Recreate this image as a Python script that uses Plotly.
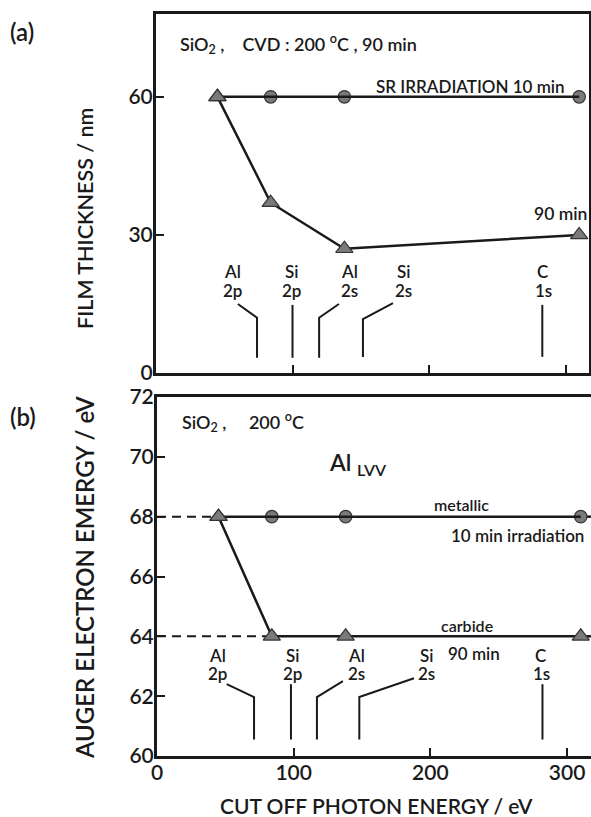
import plotly.graph_objects as go

W, H = 591, 817
OFF = 0          # body margin removed in the page (see write_html below)
FONT = "Lato"
INK = "#1a1a1a"
MARK = "#7a7a7a"

# ---------------- data ----------------
# (a) film thickness vs cut-off photon energy
a_sr10_x = [45, 84, 138, 310]
a_sr10_y = [60, 60, 60, 60]
a_sr90_x = [45, 84, 138, 310]
a_sr90_y = [60, 37, 27, 30]

# (b) Al LVV Auger electron energy
b_met_x = [45, 84, 138, 310]
b_met_y = [68, 68, 68, 68]
b_carb_x = [45, 84, 138, 310]
b_carb_y = [68, 64, 64, 64]
b_ext_x = [310, 330]          # lines continue past the last point
b_dash_met_x = [0, 45]
b_dash_carb_x = [0, 84]

# absorption edges
edge_elem = ["Al", "Si", "Al", "Si", "C"]
edge_level = ["2p", "2p", "2s", "2s", "1s"]
edge_label_x_a = [56, 99, 142, 181, 283.5]
edge_label_x_b = [44, 99, 146, 197, 281]
edge_path_a = [
    ([60, 74, 74], [15, 12, 3.3]),
    ([100, 100], [14.8, 3.3]),
    ([134, 119.5, 119.5], [15, 12, 3.3]),
    ([173.6, 151.6, 151.6], [15.2, 11.7, 3.5]),
    ([283, 283], [14.8, 3.5]),
]
edge_path_b = [
    ([51, 71, 71], [62.4, 61.97, 60.55]),
    ([98, 98], [62.4, 60.55]),
    ([136, 117, 117], [62.5, 61.97, 60.55]),
    ([188, 148, 148], [62.6, 61.97, 60.55]),
    ([282, 282], [62.4, 60.55]),
]

a_yticks = [0, 30, 60]
b_yticks = [60, 62, 64, 66, 68, 70, 72]
x_ticks = [0, 100, 200, 300]

# ---------------- helpers (page pixel -> paper) ----------------
def px(xp):
    return (xp - OFF) / W

def py(yp):
    return 1 - (yp - OFF) / H

# ---------------- figure ----------------
fig = go.Figure()

line_style = dict(color=INK, width=2.5)
circ = dict(symbol="circle", size=12.5, color=MARK, line=dict(color="#333", width=1.2))
tri = dict(symbol="triangle-up", size=15, color=MARK, line=dict(color="#333", width=1.2))

# panel (a)
fig.add_trace(go.Scatter(x=a_sr90_x, y=a_sr90_y, mode="lines+markers", line=line_style,
                         marker=tri, xaxis="x", yaxis="y", showlegend=False))
fig.add_trace(go.Scatter(x=a_sr10_x[1:], y=a_sr10_y[1:], mode="markers", marker=circ,
                         xaxis="x", yaxis="y", showlegend=False))
fig.add_trace(go.Scatter(x=a_sr10_x, y=a_sr10_y, mode="lines", line=line_style,
                         xaxis="x", yaxis="y", showlegend=False))
fig.add_trace(go.Scatter(x=a_sr90_x[:1], y=a_sr90_y[:1], mode="markers", marker=tri,
                         xaxis="x", yaxis="y", showlegend=False))

# panel (b)
dash_style = dict(color=INK, width=2, dash="9px,6px")
fig.add_trace(go.Scatter(x=b_dash_met_x, y=[b_met_y[0]] * 2, mode="lines", line=dash_style,
                         xaxis="x2", yaxis="y2", showlegend=False))
fig.add_trace(go.Scatter(x=b_dash_carb_x, y=[b_carb_y[1]] * 2, mode="lines", line=dash_style,
                         xaxis="x2", yaxis="y2", showlegend=False))
fig.add_trace(go.Scatter(x=b_ext_x, y=[b_met_y[-1]] * 2, mode="lines", line=line_style,
                         xaxis="x2", yaxis="y2", showlegend=False))
fig.add_trace(go.Scatter(x=b_ext_x, y=[b_carb_y[-1]] * 2, mode="lines", line=line_style,
                         xaxis="x2", yaxis="y2", showlegend=False))
fig.add_trace(go.Scatter(x=b_carb_x, y=b_carb_y, mode="lines+markers", line=line_style,
                         marker=tri, xaxis="x2", yaxis="y2", showlegend=False))
fig.add_trace(go.Scatter(x=b_met_x[1:], y=b_met_y[1:], mode="markers", marker=circ,
                         xaxis="x2", yaxis="y2", showlegend=False))
fig.add_trace(go.Scatter(x=b_met_x, y=b_met_y, mode="lines", line=line_style,
                         xaxis="x2", yaxis="y2", showlegend=False))
fig.add_trace(go.Scatter(x=b_carb_x[:1], y=b_carb_y[:1], mode="markers", marker=tri,
                         xaxis="x2", yaxis="y2", showlegend=False))

# edge leader lines
for (ex, ey) in edge_path_a:
    fig.add_trace(go.Scatter(x=ex, y=ey, mode="lines", line=dict(color=INK, width=2),
                             xaxis="x", yaxis="y", showlegend=False))
for (ex, ey) in edge_path_b:
    fig.add_trace(go.Scatter(x=ex, y=ey, mode="lines", line=dict(color=INK, width=2),
                             xaxis="x2", yaxis="y2", showlegend=False))

ann = []
lab_font = dict(size=17, family=FONT, color=INK, weight=600)
for el, lv, lx in zip(edge_elem, edge_level, edge_label_x_a):
    ann.append(dict(x=lx, y=22.0, xref="x", yref="y", text=el, showarrow=False, font=lab_font))
    ann.append(dict(x=lx, y=18.0, xref="x", yref="y", text=lv, showarrow=False, font=lab_font))
for el, lv, lx in zip(edge_elem, edge_level, edge_label_x_b):
    ann.append(dict(x=lx, y=63.37, xref="x2", yref="y2", text=el, showarrow=False, font=lab_font))
    ann.append(dict(x=lx, y=62.77, xref="x2", yref="y2", text=lv, showarrow=False, font=lab_font))

def text_at(xp, yp, text, size, xanchor="center", yanchor="middle", angle=0):
    ann.append(dict(x=px(xp), y=py(yp), xref="paper", yref="paper", text=text, showarrow=False,
                    xanchor=xanchor, yanchor=yanchor, textangle=angle,
                    font=dict(size=size, family=FONT, color=INK, weight=600)))

NB = "\u00a0"
text_at(8, 32, "(a)", 24, xanchor="left")
text_at(8, 416, "(b)", 24, xanchor="left")
text_at(178, 44, "SiO<sub>2</sub>" + NB + "," + NB * 4 + "CVD" + NB + ":" + NB + "200" + NB
        + "<sup>o</sup>C" + NB + "," + NB + "90 min", 18, xanchor="left")
text_at(471, 86, "SR IRRADIATION 10 min", 17)
text_at(560, 213, "90 min", 17.5)
text_at(180, 422, "SiO<sub>2</sub>" + NB + "," + NB * 5 + "200" + NB + "<sup>o</sup>C", 18,
        xanchor="left")
text_at(327, 463, "Al <sub>LVV</sub>", 23, xanchor="left")
text_at(461, 504, "metallic", 16)
text_at(517, 535, "10 min irradiation", 17)
text_at(467, 625, "carbide", 16)
text_at(474, 653, "90 min", 17)
text_at(85, 219, "FILM THICKNESS / nm", 21.5, angle=-90)
text_at(84, 578, "AUGER ELECTRON EMERGY / eV", 24, angle=-90)
text_at(376, 805, "CUT OFF PHOTON ENERGY / eV", 21)

axis_common = dict(showgrid=False, zeroline=False, showline=True, linecolor=INK, linewidth=3,
                   ticks="inside", ticklen=8, tickwidth=2, tickcolor=INK, ticklabelstandoff=-4,
                   tickfont=dict(size=21, family=FONT, color=INK, weight=600))

fig.update_layout(
    width=W, height=H,
    margin=dict(l=0, r=0, t=0, b=0, autoexpand=False),
    paper_bgcolor="white", plot_bgcolor="white",
    xaxis=dict(domain=[px(156), px(589)], range=[0, 317.2], anchor="y",
               tickvals=x_ticks, showticklabels=False, mirror=True, **axis_common),
    yaxis=dict(domain=[py(373), py(14)], range=[0, 78], anchor="x",
               tickvals=a_yticks, mirror=True, **axis_common),
    xaxis2=dict(domain=[px(157), px(591)], range=[0, 317.5], anchor="y2",
                tickvals=x_ticks, mirror=True, **axis_common),
    yaxis2=dict(domain=[py(756), py(397)], range=[60, 72], anchor="x2",
                tickvals=b_yticks, **axis_common),
    annotations=ann,
)

fig.write_html(
    "out.html",
    config={"displayModeBar": False},
    post_script="document.body.style.margin='0';"
                "document.documentElement.style.overflow='hidden';",
)
